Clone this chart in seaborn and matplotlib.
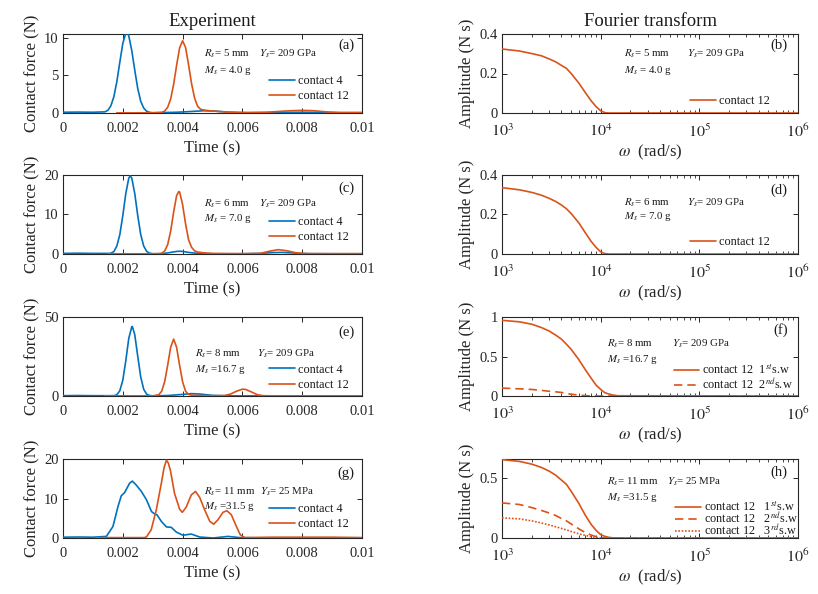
import numpy as np
import pandas as pd
import matplotlib
matplotlib.use("Agg")
import matplotlib.pyplot as plt
import seaborn as sns
from matplotlib.lines import Line2D
from matplotlib.ticker import LogLocator, NullFormatter, FixedLocator

# ---------------- data ----------------
t_a4 = [0, 0.0005, 0.001, 0.0014, 0.0015, 0.0016, 0.0017, 0.0018, 0.0019, 0.0020, 0.0021, 0.00215,
        0.0022, 0.0023, 0.0024, 0.0025, 0.0026, 0.0027, 0.0028, 0.0029, 0.0030, 0.0033, 0.0038,
        0.0043, 0.0047, 0.0051, 0.0055, 0.0060, 0.0070, 0.0080, 0.0090, 0.0100]
f_a4 = [0.1, 0.12, 0.1, 0.15, 0.35, 0.95, 2.15, 4.15, 6.75, 9.25, 10.6, 10.7, 10.25, 8.3, 5.7,
        3.25, 1.55, 0.65, 0.22, 0.08, 0.03, 0.05, 0.1, 0.2, 0.3, 0.25, 0.12, 0.05, 0.05, 0.1, 0.05, 0.05]
t_a12 = [0.0018, 0.0025, 0.0030, 0.0033, 0.0034, 0.0035, 0.0036, 0.0037, 0.0038, 0.0039, 0.0040,
         0.0041, 0.0042, 0.0043, 0.0044, 0.0045, 0.0046, 0.0047, 0.0049, 0.0052, 0.0056, 0.0062,
         0.0068, 0.0072, 0.0076, 0.0080, 0.0084, 0.0088, 0.0093, 0.0100]
f_a12 = [0.02, 0.02, 0.03, 0.08, 0.25, 0.75, 1.85, 3.8, 6.35, 8.65, 9.6, 8.7, 6.4, 3.9, 2.0, 0.9,
         0.5, 0.4, 0.3, 0.2, 0.1, 0.05, 0.1, 0.2, 0.3, 0.35, 0.3, 0.15, 0.05, 0.05]

t_c4 = [0, 0.0005, 0.001, 0.0015, 0.0016, 0.0017, 0.0018, 0.0019, 0.0020, 0.0021, 0.0022, 0.00225,
        0.0023, 0.0024, 0.0025, 0.0026, 0.0027, 0.0028, 0.0029, 0.0030, 0.0032, 0.0034, 0.0036,
        0.0038, 0.0039, 0.0040, 0.0042, 0.0045, 0.0050, 0.0060, 0.0066, 0.0070, 0.0073, 0.0076,
        0.0080, 0.0090, 0.0100]
f_c4 = [0.15, 0.2, 0.15, 0.15, 0.2, 0.6, 2.0, 4.9, 9.7, 15.3, 19.2, 19.8, 19.2, 15.3, 9.7, 4.9, 2.0,
        0.65, 0.2, 0.08, 0.05, 0.15, 0.4, 0.65, 0.7, 0.65, 0.4, 0.15, 0.05, 0.05, 0.15, 0.35, 0.4,
        0.3, 0.1, 0.05, 0.05]
t_c12 = [0.0015, 0.0025, 0.0030, 0.0033, 0.0034, 0.0035, 0.0036, 0.0037, 0.0038, 0.00387, 0.0039,
         0.0040, 0.0041, 0.0042, 0.0043, 0.0044, 0.0045, 0.0047, 0.0050, 0.0060, 0.0066, 0.0069,
         0.0072, 0.0075, 0.0078, 0.0082, 0.0090, 0.0100]
f_c12 = [0.05, 0.05, 0.05, 0.15, 0.75, 2.35, 5.75, 10.6, 14.8, 15.8, 15.7, 12.5, 7.6, 3.6, 1.7, 0.8,
         0.5, 0.3, 0.15, 0.1, 0.15, 0.7, 1.1, 0.8, 0.3, 0.1, 0.1, 0.1]

t_e4 = [0, 0.0005, 0.001, 0.0015, 0.0017, 0.0018, 0.0019, 0.0020, 0.0021, 0.0022, 0.0023, 0.00232,
        0.0024, 0.0025, 0.0026, 0.0027, 0.0028, 0.0029, 0.0030, 0.0035, 0.0040, 0.0043, 0.0046,
        0.0050, 0.0055, 0.0070, 0.0100]
f_e4 = [0.2, 0.3, 0.2, 0.2, 0.2, 0.8, 3.3, 10, 22.3, 36.5, 43.8, 44, 38.8, 25.1, 12, 4.2, 1.1, 0.3,
        0.1, 0.3, 1.0, 1.5, 1.2, 0.4, 0.1, 0.05, 0.05]
t_e12 = [0.0014, 0.0025, 0.0030, 0.0032, 0.0033, 0.0034, 0.0035, 0.0036, 0.0037, 0.0038, 0.0039,
         0.0040, 0.0041, 0.0042, 0.0043, 0.0045, 0.0050, 0.0054, 0.0056, 0.0058, 0.0060, 0.0061,
         0.0063, 0.0065, 0.0067, 0.0070, 0.0080, 0.0100]
f_e12 = [0.1, 0.1, 0.1, 0.75, 3.0, 9.0, 19.4, 30.8, 36, 30.8, 19.4, 9.0, 3.0, 1.0, 0.5, 0.3, 0.15,
         0.3, 1.2, 3.0, 4.3, 4.2, 2.6, 0.8, 0.2, 0.1, 0.1, 0.1]

t_g4 = [0, 0.0005, 0.001, 0.00145, 0.00167, 0.00184, 0.00195, 0.00206, 0.00223, 0.00232, 0.00245,
        0.00262, 0.00279, 0.00296, 0.00307, 0.00314, 0.00329, 0.00346, 0.00362, 0.00379, 0.00401,
        0.00429, 0.00457, 0.00502, 0.00552, 0.00591, 0.0065, 0.008, 0.01]
f_g4 = [0.2, 0.25, 0.2, 0.4, 2.9, 8.0, 10.7, 11.5, 13.9, 14.4, 13.4, 11.8, 9.7, 6.7, 6.05, 5.9, 4.2,
        2.8, 2.7, 1.5, 0.7, 1.0, 0.25, 0.0, 0.4, 0.1, 0.05, 0.05, 0.05]
t_g12 = [0.00123, 0.002, 0.0027, 0.00279, 0.00295, 0.00312, 0.00329, 0.00338, 0.00346, 0.00352,
         0.00359, 0.00373, 0.0039, 0.00399, 0.00412, 0.00429, 0.00443, 0.00457, 0.00474, 0.00491,
         0.00504, 0.00518, 0.00535, 0.00548, 0.00563, 0.0058, 0.00593, 0.00608, 0.0070, 0.0080,
         0.0090, 0.0100]
f_g12 = [0.1, 0.1, 0.1, 0.25, 2.1, 7.1, 13.9, 17.8, 19.7, 19.0, 17.2, 11.3, 7.3, 6.5, 7.8, 10.9,
         11.8, 10.3, 7.1, 4.2, 3.5, 4.6, 6.5, 6.9, 5.9, 2.9, 0.8, 0.1, 0.2, 0.2, 0.2, 0.1]

omega = [1000, 1500, 2000, 2500, 3000, 3500, 4000, 4500, 5000, 6000, 7000, 8000, 9000, 10000,
         11000, 12000, 13000, 15000, 1000000]
amp_b = [0.324, 0.314, 0.301, 0.29, 0.274, 0.259, 0.241, 0.226, 0.201, 0.152, 0.103, 0.062, 0.032,
         0.011, 0.002, 0, 0, 0, 0]
amp_d = [0.336, 0.325, 0.312, 0.298, 0.282, 0.266, 0.248, 0.229, 0.206, 0.158, 0.107, 0.064, 0.033,
         0.011, 0.002, 0, 0, 0, 0]
amp_f1 = [0.958, 0.939, 0.909, 0.867, 0.823, 0.771, 0.72, 0.655, 0.594, 0.461, 0.332, 0.226, 0.136,
          0.084, 0.042, 0.027, 0.014, 0.003, 0]
amp_f2 = [0.10, 0.091, 0.083, 0.071, 0.06, 0.053, 0.045, 0.033, 0.022, 0.012, 0.004, 0.001, 0, 0,
          0, 0, 0, 0, 0]
amp_h1 = [0.655, 0.64, 0.617, 0.59, 0.559, 0.525, 0.484, 0.448, 0.393, 0.29, 0.189, 0.114, 0.063,
          0.028, 0.014, 0.006, 0.002, 0, 0]
amp_h2 = [0.293, 0.28, 0.254, 0.231, 0.209, 0.188, 0.163, 0.143, 0.118, 0.077, 0.045, 0.025, 0.011,
          0.002, 0, 0, 0, 0, 0]
amp_h3 = [0.168, 0.16, 0.143, 0.126, 0.109, 0.094, 0.08, 0.067, 0.055, 0.035, 0.022, 0.012, 0.004,
          0, 0, 0, 0, 0, 0]

time_ticks = [0, 0.002, 0.004, 0.006, 0.008, 0.01]
time_ticklabels = ["0", "0.002", "0.004", "0.006", "0.008", "0.01"]
omega_ticks = [1e3, 1e4, 1e5, 1e6]
omega_ticklabels = ["$10^3$", "$10^4$", "$10^5$", "$10^6$"]

# ---------------- style ----------------
BLUE = "#0072BD"
ORANGE = "#D95319"
sns.set_theme(style="ticks")
plt.rcParams["font.family"] = ["Liberation Serif", "DejaVu Serif"]
plt.rcParams["mathtext.fontset"] = "stix"
plt.rcParams["axes.edgecolor"] = "#262626"
plt.rcParams["axes.linewidth"] = 0.8
plt.rcParams["xtick.color"] = "#262626"
plt.rcParams["ytick.color"] = "#262626"
plt.rcParams["text.color"] = "#1a1a1a"

fig = plt.figure(figsize=(8.18, 5.94), dpi=100)

LX, RX = 63 / 818, 502 / 818
LW, RW = 299 / 818, 296 / 818
tops = [34, 175, 317, 459]
H = 79 / 594


def make_ax(x0, w, top):
    return fig.add_axes([x0, 1 - (top + 79) / 594, w, H])


def style_ax(ax):
    ax.tick_params(direction="in", top=True, right=True, length=3.5, width=0.7,
                   labelsize=10.5, pad=3)
    ax.tick_params(which="minor", direction="in", top=True, right=True, length=2, width=0.6)
    for s in ax.spines.values():
        s.set_visible(True)


def line(ax, x, y, color, ls="-", label=None):
    df = pd.DataFrame({"x": x, "y": y})
    sns.lineplot(data=df, x="x", y="y", ax=ax, color=color, linestyle=ls, linewidth=1.2,
                 estimator=None, sort=False, label=label, legend=False, zorder=3)


ANN_FS = 7.8
LEG_FS = 8.8
LAB_FS = 12
TITLE_FS = 13.5

left_specs = [
    (t_a4, f_a4, t_a12, f_a12, (0, 10.5), [0, 5, 10], "(a)",
     ["$R_s$= 5 mm", "$Y_s$= 209 GPa", "$M_s$ = 4.0 g"], (0.47, 0.655, 0.755, 0.54), 0.86, (0.41, 0.215)),
    (t_c4, f_c4, t_c12, f_c12, (0, 20), [0, 10, 20], "(c)",
     ["$R_s$= 6 mm", "$Y_s$= 209 GPa", "$M_s$ = 7.0 g"], (0.47, 0.655, 0.64, 0.455), 0.835, (0.41, 0.21)),
    (t_e4, f_e4, t_e12, f_e12, (0, 50), [0, 50], "(e)",
     ["$R_s$= 8 mm", "$Y_s$= 209 GPa", "$M_s$ =16.7 g"], (0.44, 0.65, 0.54, 0.34), 0.81, (0.34, 0.15)),
    (t_g4, f_g4, t_g12, f_g12, (0, 20), [0, 10, 20], "(g)",
     ["$R_s$= 11 mm", "$Y_s$= 25 MPa", "$M_s$ =31.5 g"], (0.47, 0.66, 0.585, 0.405), 0.82, (0.37, 0.18)),
]

for i, (t4, f4, t12, f12, ylim, yt, plab, ann, apos, plab_y, leg_y) in enumerate(left_specs):
    ax = make_ax(LX, LW, tops[i])
    line(ax, t4, f4, BLUE)
    line(ax, t12, f12, ORANGE)
    ax.set_xlim(0, 0.01)
    ax.set_ylim(*ylim)
    ax.xaxis.set_major_locator(FixedLocator(time_ticks))
    ax.set_xticklabels(time_ticklabels)
    ax.set_yticks(yt)
    ax.set_yticklabels([str(v) for v in yt])
    style_ax(ax)
    ax.tick_params(axis="x", pad=6.5)
    ax.set_xlabel("Time (s)", fontsize=LAB_FS, labelpad=4)
    ax.set_ylabel("Contact force (N)", fontsize=LAB_FS, labelpad=3)
    if i == 0:
        ax.set_title("Experiment", fontsize=TITLE_FS, pad=6)
    ax.text(apos[0], apos[2], ann[0], transform=ax.transAxes, fontsize=ANN_FS, va="center")
    ax.text(apos[1], apos[2], ann[1], transform=ax.transAxes, fontsize=ANN_FS, va="center")
    ax.text(apos[0], apos[3], ann[2], transform=ax.transAxes, fontsize=ANN_FS, va="center")
    ax.text(0.975, plab_y, plab, transform=ax.transAxes, fontsize=10.5, ha="right", va="center")
    handles = [Line2D([], [], color=BLUE, lw=1.2), Line2D([], [], color=ORANGE, lw=1.2)]
    ax.legend(handles, ["contact 4", "contact 12"], loc="upper left",
              bbox_to_anchor=(0.69, leg_y[0] + 0.068), frameon=False, fontsize=LEG_FS,
              handlelength=2.1, handletextpad=0.25, labelspacing=0.25, borderpad=0,
              borderaxespad=0)

right_specs = [
    ([(amp_b, "-")], (0, 0.4), [0, 0.2, 0.4], ["0", "0.2", "0.4"], "(b)",
     ["$R_s$= 5 mm", "$Y_s$= 209 GPa", "$M_s$ = 4.0 g"], (0.412, 0.624, 0.755, 0.54), 0.86,
     ["contact 12"], (0.635, 0.14), 0.3),
    ([(amp_d, "-")], (0, 0.4), [0, 0.2, 0.4], ["0", "0.2", "0.4"], "(d)",
     ["$R_s$= 6 mm", "$Y_s$= 209 GPa", "$M_s$ = 7.0 g"], (0.412, 0.624, 0.645, 0.47), 0.81,
     ["contact 12"], (0.635, 0.14), 0.3),
    ([(amp_f1, "-"), (amp_f2, (0, (5, 3)))], (0, 1), [0, 0.5, 1], ["0", "0.5", "1"], "(f)",
     ["$R_s$= 8 mm", "$Y_s$= 209 GPa", "$M_s$ =16.7 g"], (0.354, 0.573, 0.667, 0.456), 0.835,
     ["contact 12  1$^{st}$s.w", "contact 12  2$^{nd}$s.w"], (0.58, 0.32), 0.0),
    ([(amp_h1, "-"), (amp_h2, (0, (5, 3))), (amp_h3, (0, (1, 1)))], (0, 0.66), [0, 0.5],
     ["0", "0.5"], "(h)",
     ["$R_s$= 11 mm", "$Y_s$= 25 MPa", "$M_s$ =31.5 g"], (0.354, 0.556, 0.715, 0.51), 0.83,
     ["contact 12   1$^{st}$s.w", "contact 12   2$^{nd}$s.w", "contact 12   3$^{rd}$s.w"],
     (0.585, 0.385), -0.27),
]

for i, (series, ylim, yt, ytl, plab, ann, apos, plab_y, labels, legpos, lsp) in enumerate(right_specs):
    ax = make_ax(RX, RW, tops[i])
    for amp, ls in series:
        line(ax, omega, amp, ORANGE, ls=ls)
    ax.set_xscale("log")
    ax.set_xlim(1e3, 1e6)
    ax.set_ylim(*ylim)
    ax.xaxis.set_major_locator(FixedLocator(omega_ticks))
    ax.set_xticklabels(omega_ticklabels)
    ax.xaxis.set_minor_locator(LogLocator(base=10, subs=np.arange(2, 10)))
    ax.xaxis.set_minor_formatter(NullFormatter())
    ax.set_yticks(yt)
    ax.set_yticklabels(ytl)
    style_ax(ax)
    ax.tick_params(axis="x", labelsize=11.5, pad=7.5)
    ax.set_xlabel(r"$\omega$  (rad/s)", fontsize=LAB_FS, labelpad=1)
    ax.set_ylabel("Amplitude (N s)", fontsize=LAB_FS, labelpad=3)
    if i == 0:
        ax.set_title("Fourier transform", fontsize=TITLE_FS, pad=6)
    ax.text(apos[0], apos[2], ann[0], transform=ax.transAxes, fontsize=ANN_FS, va="center")
    ax.text(apos[1], apos[2], ann[1], transform=ax.transAxes, fontsize=ANN_FS, va="center")
    ax.text(apos[0], apos[3], ann[2], transform=ax.transAxes, fontsize=ANN_FS, va="center")
    ax.text(0.965, plab_y, plab, transform=ax.transAxes, fontsize=10.5, ha="right", va="center")
    handles = [Line2D([], [], color=ORANGE, lw=1.2, linestyle=ls) for _, ls in series]
    ax.legend(handles, labels, loc="upper left", bbox_to_anchor=(legpos[0], legpos[1] + 0.085),
              frameon=False, fontsize=LEG_FS, handlelength=2.1, handletextpad=0.25,
              labelspacing=lsp, borderpad=0, borderaxespad=0)

fig.savefig("out.png", dpi=100)
